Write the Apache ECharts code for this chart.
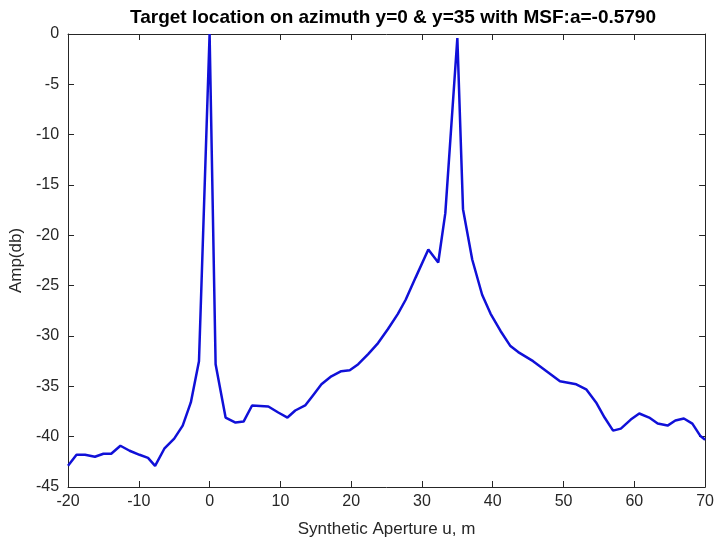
<!DOCTYPE html>
<html>
<head>
<meta charset="utf-8">
<script src="https://cdn.jsdelivr.net/npm/echarts@6/dist/echarts.min.js"></script>
<style>
  html, body { margin: 0; padding: 0; background: #fff; }
  #chart { width: 717px; height: 543px; }
</style>
</head>
<body>
<div id="chart"></div>
<script>
// azimuth position (m) and amplitude (dB)
const uPos = [-20, -18.8, -17.6, -16.2, -15.0, -13.9, -12.6, -11.3, -9.9, -8.7, -7.7, -6.4, -5.0, -3.8, -2.65, -1.5,
  0, 0.85, 2.26, 3.66, 4.8, 6.0, 8.3, 9.7, 11.0, 12.1, 13.5, 14.6, 15.8, 17.2, 18.6, 19.8, 21.0, 22.4, 23.8, 25.2,
  26.6, 27.7, 29.1, 30.9, 32.3, 33.3, 35, 35.8, 37.1, 38.5, 39.7, 41.1, 42.5, 43.6, 45.7, 47.6, 49.5, 51.8, 53.2,
  54.6, 55.8, 57.0, 58.1, 59.5, 60.7, 62.1, 63.3, 64.7, 65.8, 67.0, 68.2, 69.3, 70];
const ampDb = [-42.9, -41.8, -41.8, -42.0, -41.7, -41.7, -40.9, -41.4, -41.8, -42.1, -42.9, -41.2, -40.2, -38.9, -36.6, -32.5,
  0, -32.8, -38.1, -38.6, -38.5, -36.9, -37.0, -37.6, -38.1, -37.4, -36.9, -35.9, -34.8, -34.0, -33.5, -33.4, -32.8, -31.8, -30.7, -29.3,
  -27.8, -26.4, -24.2, -21.4, -22.7, -17.8, -0.4, -17.4, -22.4, -25.9, -27.8, -29.5, -31.0, -31.6, -32.5, -33.5, -34.5, -34.8, -35.3,
  -36.6, -38.1, -39.4, -39.2, -38.3, -37.7, -38.1, -38.7, -38.9, -38.4, -38.2, -38.7, -39.9, -40.3];

const points = uPos.map((u, i) => [u, ampDb[i]]);

const textColor = '#262626';
const axisLine = { show: true, onZero: false, lineStyle: { color: '#262626', width: 1 } };
const tickIn = { show: true, inside: true, length: 6, lineStyle: { color: '#262626' } };

const chart = echarts.init(document.getElementById('chart'));
chart.setOption({
  animation: false,
  backgroundColor: '#fff',
  title: {
    text: 'Target location on azimuth y=0 & y=35 with MSF:a=-0.5790',
    left: 388, top: 3, textAlign: 'center',
    textStyle: { fontFamily: 'Liberation Sans', fontSize: 19, fontWeight: 'bold', color: '#000' }
  },
  grid: { left: 68, right: 10, top: 34, bottom: 55 },
  xAxis: [{
    type: 'value', min: -20, max: 70, interval: 10,
    name: 'Synthetic Aperture u, m', nameLocation: 'middle', nameGap: 34,
    nameTextStyle: { fontFamily: 'Liberation Sans', fontSize: 17, color: textColor },
    axisLine: axisLine, axisTick: tickIn,
    axisLabel: { fontFamily: 'Liberation Sans', fontSize: 16, color: textColor, margin: 7 },
    splitLine: { show: false }
  }, {
    type: 'value', position: 'top', min: -20, max: 70, interval: 10,
    axisLine: axisLine, axisTick: tickIn, axisLabel: { show: false }, splitLine: { show: false }
  }],
  yAxis: [{
    type: 'value', min: -45, max: 0, interval: 5,
    name: 'Amp(db)', nameLocation: 'middle', nameGap: 42,
    nameTextStyle: { fontFamily: 'Liberation Sans', fontSize: 17, color: textColor },
    axisLine: axisLine, axisTick: tickIn,
    axisLabel: { fontFamily: 'Liberation Sans', fontSize: 16, color: textColor, margin: 9 },
    splitLine: { show: false }
  }, {
    type: 'value', position: 'right', min: -45, max: 0, interval: 5,
    axisLine: axisLine, axisTick: tickIn, axisLabel: { show: false }, splitLine: { show: false }
  }],
  series: [{
    type: 'line',
    data: points,
    showSymbol: false,
    lineStyle: { color: '#1010d8', width: 2.5 },
    itemStyle: { color: '#1010d8' }
  }]
});
</script>
</body>
</html>
